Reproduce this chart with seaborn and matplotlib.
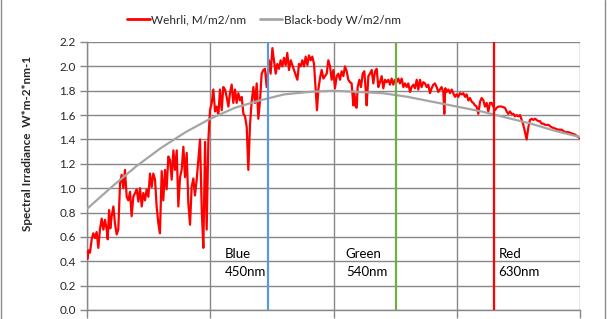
import matplotlib
matplotlib.use("Agg")
import matplotlib.pyplot as plt
import seaborn as sns
import pandas as pd
from matplotlib.lines import Line2D

# ---------------- data ----------------
wl_solar = [300.5, 301.1, 302.4, 303.8, 305.1, 306.5, 307.8, 309.2, 310.5, 311.9, 313.3, 314.6, 316.0, 316.8, 317.9,
            318.9, 320.0, 321.4, 322.7, 324.1, 325.4, 326.8, 328.1, 329.5, 330.8, 332.2, 333.5, 334.9, 336.2, 337.6,
            339.0, 340.3, 341.7, 343.0, 344.4, 345.7, 347.1, 348.4, 349.8, 351.1, 352.5, 353.8, 355.2, 356.5, 357.9,
            359.2, 360.6, 361.9, 363.3, 364.6, 366.0,
            367.4, 368.7, 370.1, 371.4, 372.8, 374.1, 375.5, 376.8, 378.2, 379.5, 380.9, 382.2, 383.6, 384.9, 386.3,
            387.6, 389.0, 390.3, 391.7, 393.1, 394.4, 395.8, 397.1, 398.5, 399.8, 401.2, 402.5, 403.9, 405.2, 406.6,
            407.9, 409.3, 410.6, 412.0, 413.3, 414.7, 416.0, 417.4, 418.7, 420.1, 421.4, 422.8, 424.1, 425.5, 426.9,
            428.2,
            429.6, 430.9, 432.3, 433.6, 435.0, 436.3, 437.7, 439.0, 440.4, 441.7, 443.1, 444.4, 445.8, 447.7, 449.0,
            450.4, 451.7, 453.1, 454.4, 455.8, 457.1, 458.5, 459.8, 461.2, 462.5, 463.9, 465.3, 466.6, 468.0, 469.3,
            470.7, 472.0, 473.4, 474.7, 476.1, 477.4, 478.8, 480.1, 481.5, 482.8, 484.2, 485.5, 486.6, 487.7, 489.0,
            490.4, 491.8, 493.1, 494.5, 495.8, 497.2,
            498.5, 499.9, 501.2, 502.6, 503.9, 505.3, 506.6, 508.0, 509.3, 510.7, 512.0, 513.4, 514.7, 516.1, 516.9,
            518.0, 518.8, 519.6, 521.0, 522.3, 523.7, 525.0, 526.1, 526.9, 528.3, 529.6, 531.0, 532.3, 533.7, 535.0,
            536.4, 537.7, 539.1, 540.4, 541.8, 543.1, 544.5, 545.8, 547.2, 548.5, 549.9, 551.2, 552.6, 553.9, 555.3,
            556.7, 558.0,
            559.4, 560.7, 562.1, 563.4, 564.8, 566.1, 567.5, 568.8, 570.2, 571.5, 572.9, 574.2, 575.6, 576.9, 578.3,
            579.6, 581.0, 582.3, 583.7, 585.0, 586.4, 587.7, 589.1, 589.9, 590.7, 591.8, 593.2, 594.5, 595.9, 597.2,
            598.6, 599.9, 601.3, 602.6, 604.0, 605.3, 606.7, 608.0, 609.4, 610.7, 612.1, 613.4, 614.8, 616.1, 617.5,
            618.9, 620.2, 621.6, 622.9, 624.3, 625.6, 627.0, 628.3,
            631.0, 632.4, 633.7, 636.4, 639.1, 640.5, 641.8, 643.2, 644.5, 645.9, 647.2, 648.6, 649.9, 651.3, 652.7,
            654.0, 655.4, 656.7, 658.1, 659.4, 660.8, 662.1, 663.5, 664.8, 666.2, 667.5, 668.9, 670.2, 671.6, 674.3,
            677.0, 679.7, 682.4, 685.1, 687.8, 690.5, 693.2, 695.9, 698.6, 700.0]

irr_solar = [0.42, 0.49, 0.47, 0.58, 0.63, 0.59, 0.64, 0.51, 0.66, 0.75, 0.66, 0.74, 0.66, 0.58, 0.82,
             0.67, 0.77, 0.85, 0.71, 0.62, 0.66, 1.04, 1.11, 1.00, 1.15, 0.93, 0.90, 0.97, 0.77, 0.93,
             0.96, 0.99, 0.89, 1.00, 0.85, 0.96, 0.90, 0.99, 0.93, 1.12, 1.01, 1.12, 1.07, 0.85, 0.71,
             0.63, 1.14, 0.90, 1.15, 0.99, 1.26,
             1.23, 1.07, 1.31, 1.15, 1.31, 0.85, 1.09, 1.15, 1.34, 1.09, 1.29, 0.88, 0.70, 1.01, 1.08,
             0.94, 1.07, 1.23, 1.40, 0.82, 0.51, 1.38, 0.66, 1.40, 1.64, 1.70, 1.81, 1.63, 1.67, 1.60,
             1.81, 1.64, 1.83, 1.81, 1.75, 1.67, 1.78, 1.85, 1.70, 1.81, 1.70, 1.78, 1.72, 1.75, 1.61,
             1.59,
             1.50, 1.15, 1.53, 1.71, 1.83, 1.70, 1.86, 1.57, 1.72, 1.94, 1.97, 1.98, 1.83, 2.05, 1.94,
             2.15, 2.05, 1.94, 2.02, 1.98, 2.05, 2.00, 2.07, 2.01, 2.11, 1.97, 2.05, 2.01, 1.97, 1.93,
             1.89, 2.02, 2.00, 2.05, 2.00, 2.08, 2.01, 2.09, 2.05, 2.08, 2.02, 1.81, 1.64, 1.81, 1.90,
             1.97, 1.90, 1.92, 1.94, 2.05, 2.00,
             1.89, 1.97, 1.82, 1.92, 1.94, 1.89, 1.96, 1.92, 2.00, 1.96, 1.89, 1.87, 1.86, 1.68, 1.79,
             1.67, 1.66, 1.83, 1.89, 1.83, 1.94, 1.96, 1.81, 1.68, 1.92, 1.94, 1.97, 1.86, 1.96, 1.98,
             1.83, 1.87, 1.92, 1.82, 1.89, 1.87, 1.89, 1.85, 1.90, 1.85, 1.89, 1.87, 1.90, 1.86, 1.90,
             1.83, 1.86,
             1.83, 1.86, 1.79, 1.83, 1.85, 1.82, 1.89, 1.81, 1.89, 1.83, 1.87, 1.86, 1.83, 1.85, 1.78,
             1.82, 1.85, 1.86, 1.83, 1.79, 1.81, 1.83, 1.79, 1.61, 1.82, 1.79, 1.81, 1.78, 1.81, 1.78,
             1.75, 1.77, 1.75, 1.78, 1.77, 1.78, 1.75, 1.77, 1.72, 1.74, 1.71, 1.70, 1.68, 1.67, 1.61,
             1.71, 1.74, 1.72, 1.67, 1.70, 1.63, 1.70, 1.70,
             1.64, 1.66, 1.67, 1.67, 1.66, 1.63, 1.61, 1.63, 1.61, 1.61, 1.59, 1.60, 1.59, 1.60, 1.56,
             1.52, 1.46, 1.40, 1.50, 1.56, 1.57, 1.56, 1.57, 1.56, 1.55, 1.55, 1.53, 1.53, 1.52, 1.52,
             1.50, 1.49, 1.48, 1.48, 1.46, 1.46, 1.45, 1.44, 1.42, 1.41]

wl_bb = [300, 320, 340, 360, 380, 400, 420, 440, 460, 480, 500, 520, 540, 560, 580, 600, 620, 640, 660, 680, 700]
irr_bb = [0.83, 1.01, 1.18, 1.33, 1.46, 1.57, 1.66, 1.72, 1.77, 1.79, 1.80, 1.79, 1.78, 1.75, 1.71, 1.67, 1.63,
          1.58, 1.53, 1.47, 1.42]

band_names = ["Blue", "Green", "Red"]
band_labels = ["450nm", "540nm", "630nm"]
band_lines = [447, 551, 630]
band_text_x = [412, 510, 634]
band_colors = ["#5B9BD5", "#70AD47", "#FF0000"]

series_names = ["Wehrli, M/m2/nm", "Black-body W/m2/nm"]
y_ticks = [0.0, 0.2, 0.4, 0.6, 0.8, 1.0, 1.2, 1.4, 1.6, 1.8, 2.0, 2.2]
x_ticks = [300, 400, 500, 600, 700]

# ---------------- plot ----------------
sns.set_style("white")
plt.rcParams['font.family'] = ['Lato', 'DejaVu Sans']

fig = plt.figure(figsize=(6.07, 3.19), dpi=100)
ax = fig.add_axes([87 / 607, 1 - 310 / 319, (580 - 87) / 607, (310 - 42) / 319])

df_solar = pd.DataFrame({"wl": wl_solar, "irr": irr_solar})
df_bb = pd.DataFrame({"wl": wl_bb, "irr": irr_bb})

grid_c = "#878787"
ax.set_xlim(300, 700)
ax.set_ylim(0, 2.2)
ax.set_xticks(x_ticks)
ax.set_yticks(y_ticks)
ax.grid(True, color=grid_c, linewidth=1.0, zorder=0)
ax.set_axisbelow(True)

sns.lineplot(data=df_solar, x="wl", y="irr", ax=ax, color="#FF0000", linewidth=1.6,
             estimator=None, sort=True, zorder=3)
sns.lineplot(data=df_bb, x="wl", y="irr", ax=ax, color="#A5A5A5", linewidth=1.6,
             estimator=None, sort=True, zorder=4)

for xl, c in zip(band_lines, band_colors):
    ax.axvline(xl, ymin=0, ymax=1, color=c, linewidth=1.6, zorder=5)

for name, lab, tx in zip(band_names, band_labels, band_text_x):
    ax.text(tx, 0.46, name, fontsize=9.5, va="center", ha="left", color="black", zorder=6)
    ax.text(tx, 0.31, lab, fontsize=9.5, va="center", ha="left", color="black", zorder=6)

for s in ["top", "right"]:
    ax.spines[s].set_visible(False)
for s in ["left", "bottom"]:
    ax.spines[s].set_color(grid_c)
    ax.spines[s].set_linewidth(1.0)

ax.set_xticklabels([])
ax.set_yticklabels([f"{v:.1f}" for v in y_ticks])
ax.tick_params(axis="y", labelsize=8.5, length=5, color=grid_c, width=1.0, direction="out", pad=3, left=True)
ax.tick_params(axis="x", length=6, color=grid_c, width=1.0, direction="out", bottom=True)
ax.set_xlabel("")
ax.set_ylabel("Spectral Irradiance  W*m-2*nm-1", fontsize=8.5, fontweight="bold", labelpad=8)
ax.yaxis.set_label_coords(-0.11, 0.62)

handles = [Line2D([0], [0], color="#FF0000", linewidth=2),
           Line2D([0], [0], color="#A5A5A5", linewidth=2)]
fig.legend(handles, series_names, loc="center", bbox_to_anchor=(264 / 607, 1 - 20 / 319), ncol=2,
           frameon=False, fontsize=8.5, handlelength=1.9, handletextpad=0.15, columnspacing=1.1)

# outer chart border
fig.add_artist(Line2D([0.5 / 607, 0.5 / 607], [0, 1], transform=fig.transFigure, color="#8C8C8C", linewidth=1))
fig.add_artist(Line2D([605 / 607, 605 / 607], [0, 1], transform=fig.transFigure, color="#8C8C8C", linewidth=1))

fig.savefig("out.png", dpi=100)
